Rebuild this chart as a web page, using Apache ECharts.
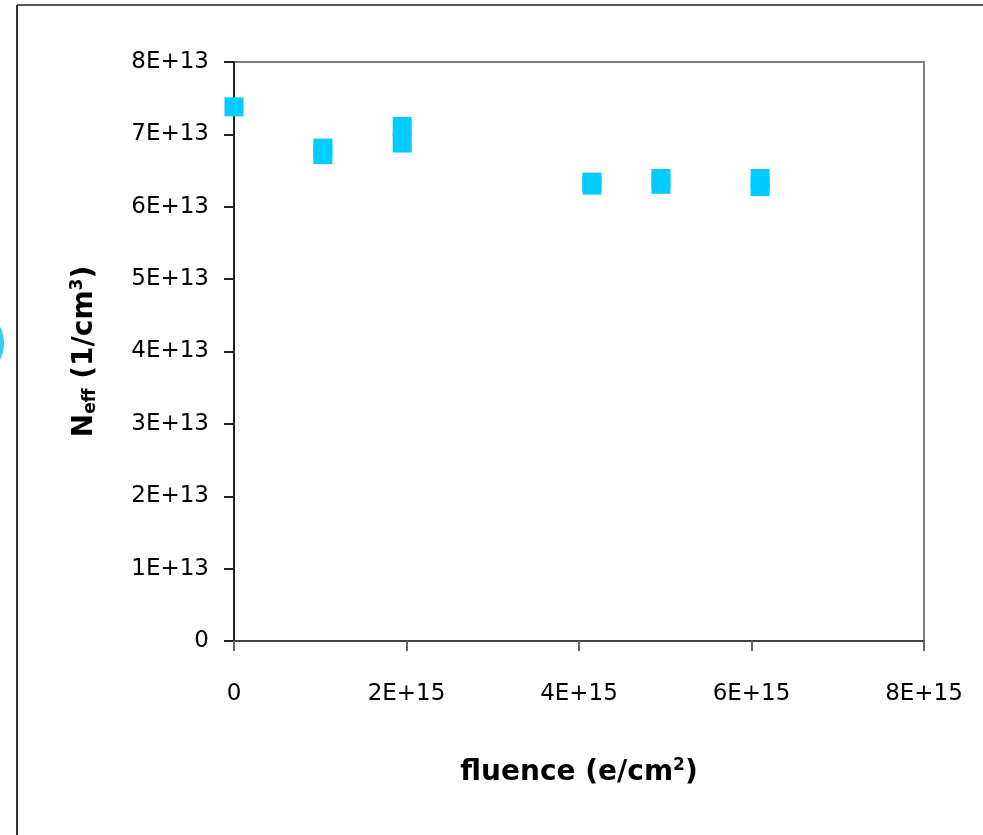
<!DOCTYPE html>
<html style="height: 100%">
<head>
<meta charset="utf-8">
<script src="https://cdn.jsdelivr.net/npm/echarts@6/dist/echarts.min.js"></script>
</head>
<body style="height: 100%; margin: 0; background: #fff">
<div id="container" style="width: 983px; height: 835px"></div>
<script type="text/javascript">
// fluence (e/cm^2) and Neff (1/cm^3)
var fluence = [0, 1.03e15, 1.03e15, 1.95e15, 1.95e15, 4.15e15, 4.15e15, 4.95e15, 4.95e15, 6.10e15, 6.10e15];
var neff = [7.38e13, 6.81e13, 6.72e13, 7.11e13, 6.88e13, 6.34e13, 6.30e13, 6.39e13, 6.31e13, 6.39e13, 6.28e13];
var xTicks = ['0', '2E+15', '4E+15', '6E+15', '8E+15'];
var yTicks = ['0', '1E+13', '2E+13', '3E+13', '4E+13', '5E+13', '6E+13', '7E+13', '8E+13'];

var font = 'DejaVu Sans';
var dom = document.getElementById('container');
var myChart = echarts.init(dom);

var points = [];
for (var i = 0; i < fluence.length; i++) {
	points.push([fluence[i], neff[i]]);
}

function tickLabel(list, step) {
	return function (v) {
		return list[Math.round(v / step)];
	};
}

var option = {
	backgroundColor: '#fff',
	animation: false,
	grid: {
		left: 234, right: 59, top: 62, bottom: 194,
		show: true, borderColor: '#808080', borderWidth: 2
	},
	xAxis: {
		type: 'value', min: 0, max: 8e15, interval: 2e15,
		splitLine: { show: false },
		axisLine: { show: true, lineStyle: { color: '#444', width: 2 } },
		axisTick: { show: true, length: 10, lineStyle: { color: '#666', width: 2 } },
		axisLabel: { formatter: tickLabel(xTicks, 2e15), margin: 42, color: '#000', fontSize: 23, fontFamily: font },
		name: '{b|fluence (e/cm}{sup|2}{b|)}',
		nameLocation: 'middle', nameGap: 116,
		nameTextStyle: {
			rich: {
				b: { fontSize: 28, fontWeight: 'bold', fontFamily: font, color: '#000' },
				sup: { fontSize: 17, fontWeight: 'bold', fontFamily: font, color: '#000', padding: [0, 0, 15, 0] }
			}
		}
	},
	yAxis: {
		type: 'value', min: 0, max: 8e13, interval: 1e13,
		splitLine: { show: false },
		axisLine: { show: true, lineStyle: { color: '#222', width: 2 } },
		axisTick: { show: true, length: 10, lineStyle: { color: '#222', width: 2 } },
		axisLabel: { formatter: tickLabel(yTicks, 1e13), margin: 25, color: '#000', fontSize: 23, fontFamily: font },
		name: '{b|N}{sub|eff}{b| (1/cm}{sup|3}{b|)}',
		nameLocation: 'middle', nameGap: 133,
		nameTextStyle: {
			rich: {
				b: { fontSize: 28, fontWeight: 'bold', fontFamily: font, color: '#000' },
				sub: { fontSize: 17, fontWeight: 'bold', fontFamily: font, color: '#000', padding: [12, 0, 0, 0] },
				sup: { fontSize: 17, fontWeight: 'bold', fontFamily: font, color: '#000', padding: [0, 0, 15, 0] }
			}
		}
	},
	graphic: [
		{ type: 'line', shape: { x1: 17, y1: 5, x2: 17, y2: 835 }, style: { stroke: '#333', lineWidth: 2 } },
		{ type: 'line', shape: { x1: 17, y1: 5, x2: 983, y2: 5 }, style: { stroke: '#555', lineWidth: 2 } },
		{ type: 'ellipse', shape: { cx: -16, cy: 343, rx: 20, ry: 28 }, style: { fill: '#33ccff' } }
	],
	series: [{
		type: 'scatter',
		symbol: 'rect',
		symbolSize: 19,
		itemStyle: { color: '#00ccff', opacity: 1 },
		data: points
	}]
};

myChart.setOption(option);
</script>
</body>
</html>
